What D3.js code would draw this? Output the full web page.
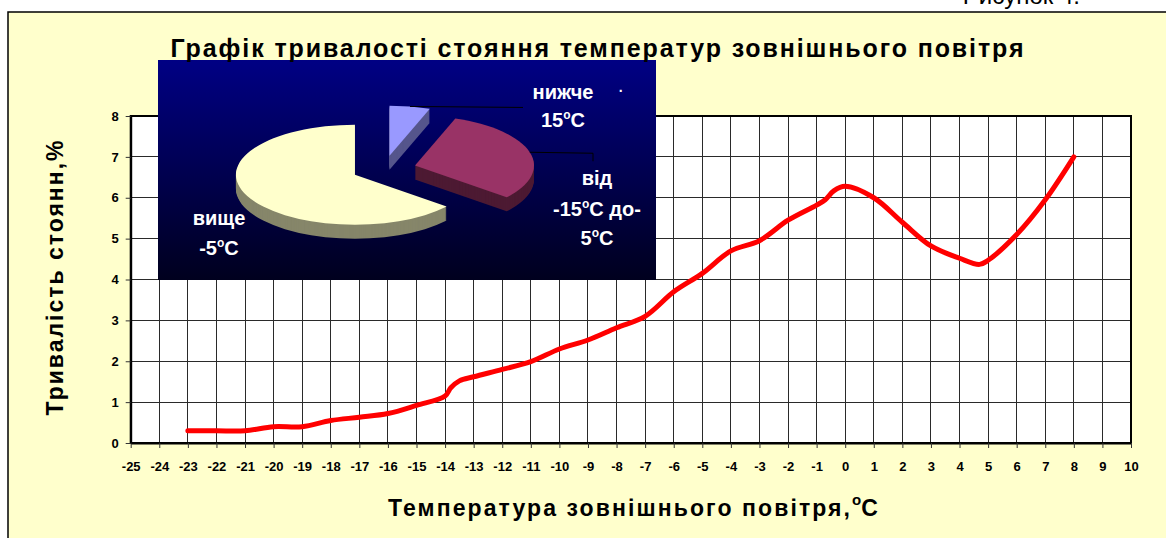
<!DOCTYPE html>
<html><head><meta charset="utf-8">
<script src="https://cdn.jsdelivr.net/npm/d3@7"></script>
<style>
body{margin:0;background:#fff;}
svg{display:block;font-family:"Liberation Sans",Arial,sans-serif;}
</style>
</head><body>
<svg id="c" width="1166" height="538"></svg>
<script>
// ---- data ----
const temps = [-23,-22,-21,-20,-19,-18,-17,-16,-15,-14,-13.8,-13.5,-13,-12,-11,-10,-9,-8,-7,-6,-5,-4,-3,-2,-1,-0.7,-0.4,0,1,2,3,4,4.7,5,6,7,8];
const durations = [0.3,0.3,0.3,0.4,0.4,0.55,0.63,0.72,0.92,1.15,1.35,1.52,1.62,1.8,1.99,2.3,2.52,2.82,3.1,3.7,4.15,4.7,4.95,5.45,5.82,5.95,6.17,6.28,6.0,5.4,4.82,4.52,4.37,4.47,5.1,5.95,7.0];
const xTickValues = [-25,-24,-23,-22,-21,-20,-19,-18,-17,-16,-15,-14,-13,-12,-11,-10,-9,-8,-7,-6,-5,-4,-3,-2,-1,0,1,2,3,4,5,6,7,8,9,10];
const yTickValues = [0,1,2,3,4,5,6,7,8];
const pieNames = ["нижче -15°C","від -15°C до -5°C","вище -5°C"];
const pieValues = [5.5, 30.5, 64];
const pieColors = ["#9999ff","#993366","#ffffcc"];
const pieSideColors = ["#55558c","#4d1a33","#86866a"];
const titleText = "Графік тривалості стояння температур зовнішнього повітря";
const yTitleText = "Тривалість стоянн,%";
const xTitleText = "Температура зовнішнього повітря,";

// ---- layout ----
const svg = d3.select("#c");
const plot = {left:130.7, right:1131, top:116, bottom:443};

// frame
svg.append("rect").attr("x",8).attr("y",12).attr("width",1300).attr("height",700)
  .attr("fill","#ffffcc").attr("stroke","#000").attr("stroke-width",1.5);
svg.append("text").attr("x",1080).attr("y",4).attr("text-anchor","end")
  .attr("font-size",24).text("Рисунок 4.");

const x = d3.scaleLinear().domain([-25,10]).range([plot.left, plot.right]);
const y = d3.scaleLinear().domain([0,8]).range([plot.bottom, plot.top]);

// plot background
svg.append("rect").attr("x",plot.left).attr("y",plot.top)
  .attr("width",plot.right-plot.left).attr("height",plot.bottom-plot.top).attr("fill","#fff");

// grid
const grid = svg.append("g").attr("stroke","#2a2a2a").attr("stroke-width",1).attr("shape-rendering","crispEdges");
grid.selectAll(".vx").data(xTickValues.slice(1,-1)).join("line")
  .attr("x1",d=>x(d)).attr("x2",d=>x(d)).attr("y1",plot.top).attr("y2",plot.bottom);
grid.selectAll(".hy").data(yTickValues.slice(1)).join("line")
  .attr("x1",plot.left).attr("x2",plot.right).attr("y1",d=>y(d)).attr("y2",d=>y(d));

// border
svg.append("rect").attr("x",plot.left).attr("y",plot.top)
  .attr("width",plot.right-plot.left).attr("height",plot.bottom-plot.top)
  .attr("fill","none").attr("stroke","#000").attr("stroke-width",2);

// axes
const xAxis = svg.append("g").attr("transform",`translate(0,${plot.bottom})`)
  .call(d3.axisBottom(x).tickValues(xTickValues).tickSize(5).tickPadding(14).tickSizeOuter(0).tickFormat(d3.format("d")));
const yAxis = svg.append("g").attr("transform",`translate(${plot.left},0)`)
  .call(d3.axisLeft(y).tickValues(yTickValues).tickSize(5).tickPadding(7).tickSizeOuter(0).tickFormat(d3.format("d")));
[xAxis,yAxis].forEach(a=>{
  a.select(".domain").attr("stroke","#000").attr("stroke-width",2);
  a.selectAll(".tick line").attr("stroke","#333");
  a.selectAll(".tick text").attr("font-family","Liberation Sans, Arial, sans-serif")
    .attr("font-weight","bold").attr("font-size",13).attr("fill","#000");
});
xAxis.selectAll(".tick text").text(d=>d<0 ? "-"+Math.abs(d) : d);

// line
const line = d3.line().x((d,i)=>x(temps[i])).y(d=>y(d)).curve(d3.curveCatmullRom.alpha(0.5));
svg.append("path").datum(durations).attr("d",line).attr("fill","none")
  .attr("stroke","#ff0000").attr("stroke-width",5).attr("stroke-linecap","round").attr("stroke-linejoin","round");

// ---- pie inset ----
const defs = svg.append("defs");
const grad = defs.append("linearGradient").attr("id","bg").attr("x1",0).attr("y1",0).attr("x2",0).attr("y2",1);
grad.append("stop").attr("offset","0%").attr("stop-color","#000084");
grad.append("stop").attr("offset","100%").attr("stop-color","#00001e");
svg.append("rect").attr("x",158).attr("y",60).attr("width",498).attr("height",220).attr("fill","url(#bg)");

const pc = {cx:384, cy:169, rx:119, ry:50, depth:14, explode:0.27};
const arcs = d3.pie().sort(null)(pieValues);
const pt = (a, ox, oy) => [ox + pc.rx*Math.cos(a-Math.PI/2), oy + pc.ry*Math.sin(a-Math.PI/2)];
function slicePath(d, ox, oy){
  const s = pt(d.startAngle, ox, oy), e = pt(d.endAngle, ox, oy);
  const large = (d.endAngle - d.startAngle) > Math.PI ? 1 : 0;
  return `M${ox},${oy}L${s[0]},${s[1]}A${pc.rx},${pc.ry} 0 ${large} 1 ${e[0]},${e[1]}Z`;
}
const pieG = svg.append("g");
const centers = arcs.map(d=>{
  const m = (d.startAngle+d.endAngle)/2 - Math.PI/2;
  return [pc.cx + pc.explode*pc.rx*Math.cos(m), pc.cy + pc.explode*pc.ry*Math.sin(m)];
});
arcs.forEach((d,i)=>{
  const [ox,oy] = centers[i];
  const g = pieG.append("g");
  for(let k=pc.depth;k>=1;k--){
    g.append("path").attr("d",slicePath(d,ox,oy+k)).attr("fill",pieSideColors[i]);
  }
  g.append("path").attr("d",slicePath(d,ox,oy)).attr("fill",pieColors[i]);
});
// leader lines
{
  const mb = pt((arcs[0].startAngle+arcs[0].endAngle)/2, centers[0][0], centers[0][1]);
  svg.append("path").attr("d",`M${mb[0]},${mb[1]}L523,${mb[1]+1}`).attr("stroke","#000").attr("fill","none");
  const mm = pt((arcs[1].startAngle+arcs[1].endAngle)/2, centers[1][0], centers[1][1]);
  svg.append("path").attr("d",`M${mm[0]},${mm[1]}L593,${mm[1]+1}L593,${mm[1]+9}`).attr("stroke","#000").attr("fill","none");
}
// pie labels
const lab = svg.append("g").attr("fill","#fff").attr("font-weight","bold").attr("font-size",20).attr("text-anchor","middle");
function degLine(g, xx, yy, pre, post){
  const t = g.append("text").attr("x",xx).attr("y",yy);
  t.append("tspan").text(pre);
  t.append("tspan").attr("font-size",12).attr("dy",-8).text("o");
  t.append("tspan").attr("dy",8).text(post);
  return t;
}
lab.append("text").attr("x",563).attr("y",99).text("нижче");
lab.append("text").attr("x",621).attr("y",96).attr("font-size",14).text("·");
degLine(lab,563,127,"15","C");
lab.append("text").attr("x",597).attr("y",185).text("від");
degLine(lab,597,216,"-15","C до-");
degLine(lab,597,245,"5","C");
lab.append("text").attr("x",219).attr("y",225).text("вище");
degLine(lab,219,255,"-5","C");

// titles
svg.append("text").attr("x",597).attr("y",57).attr("text-anchor","middle")
  .attr("font-weight","bold").attr("font-size",25).attr("textLength",853).attr("lengthAdjust","spacing")
  .text(titleText);
svg.append("text").attr("transform","translate(63,278) rotate(-90)").attr("text-anchor","middle")
  .attr("font-weight","bold").attr("font-size",23).attr("textLength",275).attr("lengthAdjust","spacing")
  .text(yTitleText);
{
  const t = svg.append("text").attr("x",388).attr("y",516).attr("font-weight","bold").attr("font-size",23);
  t.append("tspan").attr("textLength",462).attr("lengthAdjust","spacing").text(xTitleText);
  t.append("tspan").attr("font-size",15).attr("dy",-11).text("o");
  t.append("tspan").attr("dy",11).text("С");
}
</script>
</body></html>
